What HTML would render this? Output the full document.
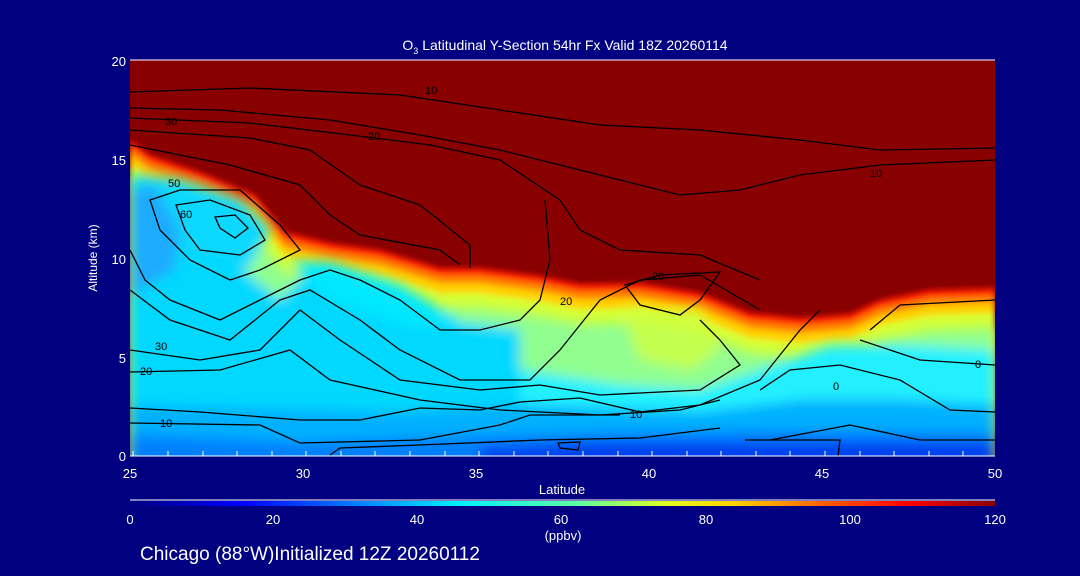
<!DOCTYPE html>
<html><head><meta charset="utf-8"><style>
html,body{margin:0;padding:0;background:#000080;}
svg{display:block}
text{font-family:"Liberation Sans",sans-serif;fill:#fff}
</style></head><body>
<svg width="1080" height="576" viewBox="0 0 1080 576" xmlns="http://www.w3.org/2000/svg">
<defs>
<clipPath id="pc"><rect x="130" y="60" width="865" height="396"/></clipPath>
<filter id="bl" x="-10%" y="-10%" width="120%" height="120%"><feGaussianBlur stdDeviation="6"/></filter>
<filter id="bl2"><feGaussianBlur stdDeviation="3"/></filter>
<path id="P" d="M130,140 L150,155 L200,172 L255,195 L285,232 L330,243 L380,250 L440,268 L480,268 L540,276 L580,284 L640,283 L700,293 L750,313 L800,318 L850,314 L880,300 L930,290 L995,288 L995,470 L130,470 Z"/>
<linearGradient id="cb" x1="0" x2="1" y1="0" y2="0">
<stop offset="0" stop-color="#000080"/>
<stop offset="0.13" stop-color="#0000ff"/>
<stop offset="0.28" stop-color="#0090ff"/>
<stop offset="0.38" stop-color="#00f0ff"/>
<stop offset="0.52" stop-color="#60ffa0"/>
<stop offset="0.62" stop-color="#e0ff20"/>
<stop offset="0.70" stop-color="#ffd000"/>
<stop offset="0.80" stop-color="#ff6000"/>
<stop offset="0.90" stop-color="#ff0000"/>
<stop offset="1" stop-color="#880000"/>
</linearGradient>
</defs>
<text x="565" y="50" font-size="14" text-anchor="middle">O<tspan font-size="9" dy="4">3</tspan><tspan dy="-4"> Latitudinal Y-Section 54hr  Fx Valid 18Z 20260114</tspan></text>
<g clip-path="url(#pc)">
<rect x="130" y="60" width="865" height="396" fill="#880000"/>
<g filter="url(#bl2)">
<use href="#P" fill="#ff1a00"/>
<use href="#P" fill="#ff8000" transform="translate(0,7)"/>
<use href="#P" fill="#ffd000" transform="translate(0,15)"/>
<use href="#P" fill="#d8ff30" transform="translate(0,25)"/>
</g>
<g filter="url(#bl)">
<use href="#P" fill="#90ff90" transform="translate(0,40)"/>
<path d="M130,330 L300,330 L360,360 L420,340 L520,370 L620,385 L700,390 L760,370 L830,345 L900,345 L995,350 L995,470 L130,470Z" fill="#20f0ff"/>
<path d="M130,175 L180,180 L240,200 L270,230 L250,265 L220,290 L150,300 L130,300Z" fill="#10d8ff"/>
<path d="M150,240 L230,260 L280,300 L310,270 L350,270 L400,300 L440,320 L520,330 L520,420 L130,420 L130,250Z" fill="#00d8ff"/>
<path d="M130,190 L155,185 L180,230 L175,270 L140,290 L130,300Z" fill="#20a0ff" opacity="0.8"/>
<path d="M290,262 L330,262 L400,285 L460,320 L420,330 L330,300Z" fill="#00e8ff"/>
<path d="M620,310 L700,310 L720,350 L690,370 L640,360Z" fill="#d0ff40" opacity="0.8"/>
<path d="M130,405 L400,412 L520,405 L700,412 L800,400 L900,400 L995,405 L995,470 L130,470Z" fill="#00b0ff"/>
<path d="M130,435 L300,442 L450,436 L600,432 L800,430 L995,432 L995,470 L130,470Z" fill="#0080ff"/>
<path d="M480,448 L600,442 L800,442 L995,442 L995,470 L480,470Z" fill="#0040f0"/>
</g>
<g fill="none" stroke="#000" stroke-width="1.3">
<path d="M130,92 L250,88 L400,95 L500,110 L600,125 L700,130 L800,140 L880,150 L995,148"/>
<path d="M130,108 L220,110 L330,120 L420,135 L500,150 L560,165 L620,180 L680,195 L740,190 L800,175 L880,165 L995,160"/>
<path d="M130,118 L250,123 L350,135 L430,145 L500,160 L560,200 L580,230 L620,250 L700,255 L760,280"/>
<path d="M130,130 L250,138 L310,150 L360,185 L420,205 L470,245 L470,268"/>
<path d="M130,145 L230,165 L300,185 L330,215 L360,235 L440,250 L460,265"/>
<path d="M150,200 L180,190 L240,190 L280,225 L300,250 L260,270 L230,280 L190,260 L160,230Z"/>
<path d="M176,205 L210,200 L250,215 L265,240 L240,255 L200,250 L185,230Z"/>
<path d="M215,217 L235,215 L248,228 L235,238 L220,228Z"/>
<path d="M130,250 L145,280 L170,300 L220,320 L260,300 L300,280 L330,270 L360,280 L400,300 L440,330 L480,330 L520,320 L540,300 L550,260 L545,200"/>
<path d="M130,290 L170,320 L230,340 L280,300 L310,290 L360,320 L400,350 L460,380 L530,380 L560,350 L600,300 L640,280 L700,275 L760,310"/>
<path d="M130,350 L200,360 L260,350 L300,310 L340,340 L400,380 L480,390 L540,385 L600,395 L700,390 L740,365 L720,340 L700,320"/>
<path d="M130,372 L220,370 L290,350 L330,380 L420,400 L500,410 L600,415 L680,410 L720,400"/>
<path d="M130,408 L200,412 L300,420 L360,420 L420,408 L480,410 L520,402 L580,398 L640,412 L700,405 L760,380 L800,330 L820,310"/>
<path d="M130,423 L260,425 L300,443 L420,440 L500,425 L530,415 L620,415"/>
<path d="M330,455 L340,448 L420,445 L540,440 L640,438 L720,428"/>
<path d="M625,285 L660,275 L720,272 L700,300 L680,315 L640,305Z"/>
<path d="M760,390 L790,370 L840,365 L900,380 L950,410 L995,412"/>
<path d="M870,330 L900,305 L995,300"/>
<path d="M860,340 L920,360 L995,365"/>
<path d="M745,440 L840,440 L838,456"/>
<path d="M558,443 L580,442 L578,450 L560,448Z"/>
<path d="M770,440 L850,425 L920,440 L995,440"/>
</g>
<g font-size="11">
<text x="425" y="94" style="fill:#000">10</text>
<text x="368" y="140" style="fill:#000">20</text>
<text x="165" y="125" style="fill:#000">30</text>
<text x="168" y="187" style="fill:#000">50</text>
<text x="180" y="218" style="fill:#000">60</text>
<text x="155" y="350" style="fill:#000">30</text>
<text x="140" y="375" style="fill:#000">20</text>
<text x="160" y="427" style="fill:#000">10</text>
<text x="630" y="418" style="fill:#000">10</text>
<text x="560" y="305" style="fill:#000">20</text>
<text x="652" y="280" style="fill:#000">20</text>
<text x="833" y="390" style="fill:#000">0</text>
<text x="975" y="368" style="fill:#000">0</text>
<text x="870" y="177" style="fill:#000">10</text>
</g>
</g>
<line x1="130" y1="60" x2="995" y2="60" stroke="#fff"/>
<line x1="130" y1="456" x2="995" y2="456" stroke="#fff"/>
<g stroke="#fff">
<line x1="133" y1="456" x2="133" y2="451"/><line x1="168" y1="456" x2="168" y2="451"/><line x1="203" y1="456" x2="203" y2="451"/><line x1="237" y1="456" x2="237" y2="451"/><line x1="272" y1="456" x2="272" y2="451"/><line x1="306" y1="456" x2="306" y2="451"/><line x1="341" y1="456" x2="341" y2="451"/><line x1="375" y1="456" x2="375" y2="451"/><line x1="410" y1="456" x2="410" y2="451"/><line x1="445" y1="456" x2="445" y2="451"/><line x1="479" y1="456" x2="479" y2="451"/><line x1="514" y1="456" x2="514" y2="451"/><line x1="548" y1="456" x2="548" y2="451"/><line x1="583" y1="456" x2="583" y2="451"/><line x1="618" y1="456" x2="618" y2="451"/><line x1="652" y1="456" x2="652" y2="451"/><line x1="687" y1="456" x2="687" y2="451"/><line x1="721" y1="456" x2="721" y2="451"/><line x1="756" y1="456" x2="756" y2="451"/><line x1="790" y1="456" x2="790" y2="451"/><line x1="825" y1="456" x2="825" y2="451"/><line x1="860" y1="456" x2="860" y2="451"/><line x1="894" y1="456" x2="894" y2="451"/><line x1="929" y1="456" x2="929" y2="451"/><line x1="963" y1="456" x2="963" y2="451"/>
</g>
<g font-size="13" text-anchor="end">
<text x="126" y="66">20</text><text x="126" y="165">15</text><text x="126" y="264">10</text><text x="126" y="363">5</text><text x="126" y="461">0</text>
</g>
<g font-size="13" text-anchor="middle">
<text x="130" y="478">25</text><text x="303" y="478">30</text><text x="476" y="478">35</text><text x="649" y="478">40</text><text x="822" y="478">45</text><text x="995" y="478">50</text>
<text x="562" y="494">Latitude</text>
</g>
<text transform="translate(97,258) rotate(-90)" font-size="12" text-anchor="middle">Altitude (km)</text>
<line x1="130" y1="500" x2="995" y2="500" stroke="#fff"/>
<rect x="130" y="501" width="865" height="5" fill="url(#cb)"/>
<g font-size="13" text-anchor="middle">
<text x="130" y="524">0</text><text x="273" y="524">20</text><text x="417" y="524">40</text><text x="561" y="524">60</text><text x="706" y="524">80</text><text x="850" y="524">100</text><text x="995" y="524">120</text>
<text x="563" y="540">(ppbv)</text>
</g>
<text x="140" y="560" font-size="19">Chicago (88°W)Initialized 12Z 20260112</text>
</svg>
</body></html>
